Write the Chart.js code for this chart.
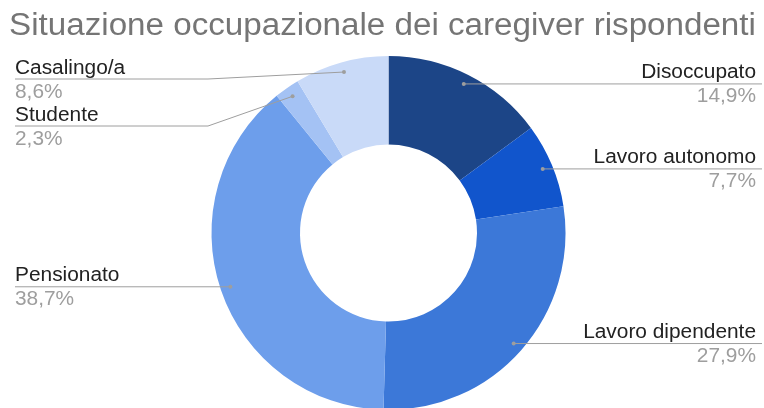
<!DOCTYPE html>
<html>
<head>
<meta charset="utf-8">
<script src="https://cdn.jsdelivr.net/npm/chart.js@4/dist/chart.umd.min.js"></script>
<style>
  html, body { margin: 0; padding: 0; background: #fff; overflow: hidden; }
  #wrap { position: relative; width: 764px; height: 410px; }
</style>
</head>
<body>
<div id="wrap"><canvas id="c"></canvas></div>
<script>
const titleText = "Situazione occupazionale dei caregiver rispondenti";
const categories = ["Disoccupato", "Lavoro autonomo", "Lavoro dipendente", "Pensionato", "Studente", "Casalingo/a"];
const values = [14.9, 7.7, 27.9, 38.7, 2.3, 8.6];
const colors = ["#1c4587", "#1155cc", "#3c78d8", "#6d9eeb", "#a4c2f4", "#c9daf8"];

const total = values.reduce((a, b) => a + b, 0);
const fmtPct = v => (v / total * 100).toFixed(1).replace(".", ",") + "%";

const FONT = '"Liberation Sans", Arial, sans-serif';
const SX = 1.07;

function drawText(ctx, text, x, y, align, font, color) {
  ctx.save();
  ctx.translate(x, y);
  ctx.scale(SX, 1);
  ctx.font = font;
  ctx.fillStyle = color;
  ctx.textAlign = align;
  ctx.textBaseline = "alphabetic";
  ctx.fillText(text, 0, 0);
  ctx.restore();
}

const leaderLabels = {
  id: "leaderLabels",
  afterDraw(chart) {
    const ctx = chart.ctx;
    drawText(ctx, titleText, 382.5, 35, "center", "31px " + FONT, "#757575");

    const meta = chart.getDatasetMeta(0);
    const items = meta.data.map((arc, i) => {
      const p = arc.getProps(["x", "y", "startAngle", "endAngle", "innerRadius", "outerRadius"], true);
      const mid = (p.startAngle + p.endAngle) / 2;
      const r = p.outerRadius - 10;
      return {
        i,
        dx: p.x + Math.cos(mid) * r,
        dy: p.y + Math.sin(mid) * r,
        right: Math.cos(mid) >= 0
      };
    });
    const place = (list) => {
      list.sort((a, b) => a.dy - b.dy);
      let prev = -Infinity;
      list.forEach(it => {
        it.ly = Math.max(it.dy, 79, prev + 47);
        prev = it.ly;
      });
    };
    const left = items.filter(it => !it.right);
    const right = items.filter(it => it.right);
    place(left); place(right);

    ctx.save();
    ctx.strokeStyle = "#9e9e9e";
    ctx.lineWidth = 1;
    ctx.fillStyle = "#9e9e9e";
    items.forEach(it => {
      ctx.beginPath();
      if (it.right) {
        ctx.moveTo(it.dx, it.dy);
        if (Math.abs(it.ly - it.dy) > 0.5) ctx.lineTo(556, it.ly);
        ctx.lineTo(762, it.ly);
      } else {
        ctx.moveTo(15, it.ly);
        if (Math.abs(it.ly - it.dy) > 0.5) ctx.lineTo(208, it.ly);
        ctx.lineTo(it.dx, it.dy);
      }
      ctx.stroke();
      ctx.beginPath();
      ctx.arc(it.dx, it.dy, 2, 0, Math.PI * 2);
      ctx.fill();
    });
    ctx.restore();

    const lf = "19.5px " + FONT;
    items.forEach(it => {
      const align = it.right ? "right" : "left";
      const x = it.right ? 756 : 15;
      drawText(ctx, categories[it.i], x, it.ly - 5.5, align, lf, "#222222");
      drawText(ctx, fmtPct(values[it.i]), x, it.ly + 18.5, align, lf, "#9e9e9e");
    });
  }
};

new Chart(document.getElementById("c"), {
  type: "doughnut",
  data: {
    labels: categories,
    datasets: [{
      data: values,
      backgroundColor: colors,
      borderWidth: 0,
      hoverOffset: 0,
      offset: 0
    }]
  },
  options: {
    responsive: true,
    maintainAspectRatio: false,
    animation: false,
    cutout: "50%",
    layout: { padding: { left: 13, right: 0, top: 56, bottom: 0 } },
    plugins: {
      legend: { display: false },
      tooltip: { enabled: false },
      title: { display: false }
    }
  },
  plugins: [leaderLabels]
});
</script>
</body>
</html>
